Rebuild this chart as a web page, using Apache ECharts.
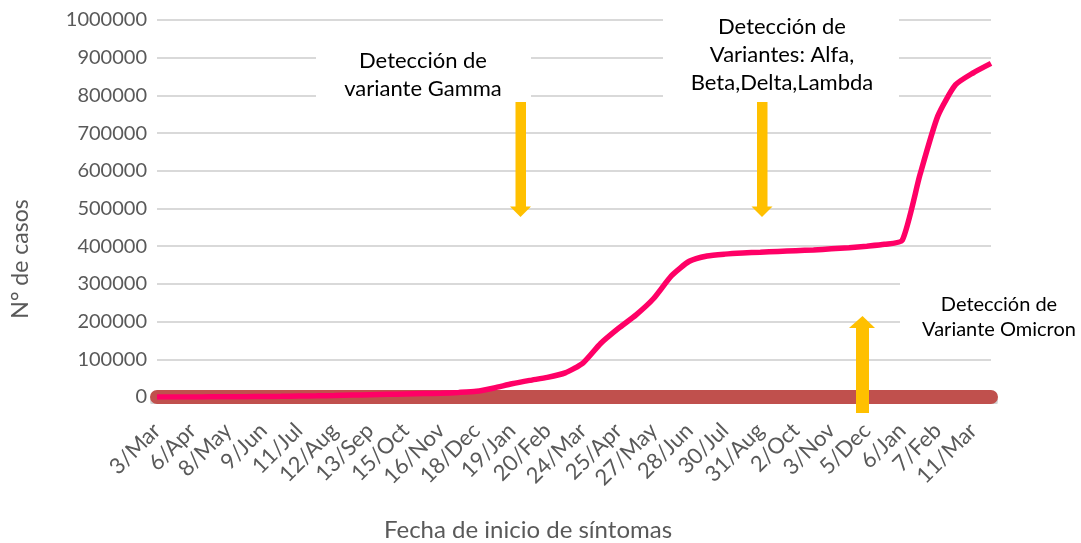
<!DOCTYPE html>
<html>
<head>
<meta charset="utf-8">
<script src="https://cdn.jsdelivr.net/npm/echarts@6/dist/echarts.min.js"></script>
<style>
  html, body { margin: 0; padding: 0; background: #fff; }
  #chart { width: 1081px; height: 543px; }
</style>
</head>
<body>
<div id="chart"></div>
<script>
// fechas cada ~16 dias, se rotula una de cada dos
var fechas = [
  '3/Mar', '19/Mar', '6/Apr', '22/Apr', '8/May', '24/May', '9/Jun', '25/Jun',
  '11/Jul', '27/Jul', '12/Aug', '28/Aug', '13/Sep', '29/Sep', '15/Oct', '31/Oct',
  '16/Nov', '2/Dec', '18/Dec', '3/Jan', '19/Jan', '4/Feb', '20/Feb', '8/Mar',
  '24/Mar', '9/Apr', '25/Apr', '11/May', '27/May', '12/Jun', '28/Jun', '14/Jul',
  '30/Jul', '15/Aug', '31/Aug', '16/Sep', '2/Oct', '18/Oct', '3/Nov', '19/Nov',
  '5/Dec', '21/Dec', '6/Jan', '22/Jan', '7/Feb', '23/Feb', '11/Mar', '27/Mar'
];

// casos acumulados
var acumulados = [
  0, 50, 200, 400, 600, 900, 1200, 1800,
  2500, 3200, 4000, 5000, 6000, 7000, 8000, 9000,
  10000, 12000, 15000, 24000, 35000, 44000, 52000, 64000,
  90000, 142000, 182000, 218000, 262000, 322000, 360000, 374000,
  379000, 382000, 384000, 386000, 388000, 390000, 393000, 396000,
  400000, 405000, 416000, 590000, 745000, 828000, 860000, 885000
];

// casos diarios (a esta escala quedan pegados al cero)
var diarios = [
  0, 0, 0, 0, 0, 0, 0, 0, 0, 0, 0, 0, 0, 0, 0, 0,
  0, 0, 0, 0, 0, 0, 0, 0, 0, 0, 0, 0, 0, 0, 0, 0,
  0, 0, 0, 0, 0, 0, 0, 0, 0, 0, 0, 0, 0, 0, 0, 0
];

var notaGamma = 'Detección de\nvariante Gamma';
var notaAlfa = 'Detección de\nVariantes: Alfa,\nBeta,Delta,Lambda';
var notaOmicron = 'Detección de\nVariante Omicron';

var gris = '#595959';
var amarillo = '#FFC000';
var fuente = 'Lato, "Open Sans", sans-serif';

function flechaAbajo(cx, top, bottom) {
  return [
    { type: 'rect', z: 100, shape: { x: cx - 5, y: top, width: 10.5, height: bottom - 10 - top }, style: { fill: amarillo } },
    { type: 'polygon', z: 100, shape: { points: [[cx - 10.5, bottom - 10.5], [cx + 10.5, bottom - 10.5], [cx, bottom]] }, style: { fill: amarillo } }
  ];
}

function nota(texto, cx, top, caja, tam) {
  return [
    { type: 'rect', z: 100, shape: caja, style: { fill: '#fff' } },
    { type: 'text', z: 101, x: cx, y: top, style: { text: texto, font: tam + 'px ' + fuente, fill: '#000', align: 'center', verticalAlign: 'top', lineHeight: tam === 22 ? 28 : 25 } }
  ];
}

var chart = echarts.init(document.getElementById('chart'));

var graficos = []
  .concat(nota(notaGamma, 423, 47, { x: 316, y: 38, width: 215, height: 63 }, 22))
  .concat(nota(notaAlfa, 782, 13, { x: 663, y: 8, width: 236, height: 93 }, 22))
  .concat(nota(notaOmicron, 999, 292, { x: 900, y: 280, width: 181, height: 66 }, 20))
  .concat(flechaAbajo(520.5, 102, 217))
  .concat(flechaAbajo(762, 102, 217))
  .concat([
    { type: 'rect', z: 100, shape: { x: 856, y: 327, width: 13, height: 86 }, style: { fill: amarillo } },
    { type: 'polygon', z: 100, shape: { points: [[849, 328], [875, 328], [862.5, 316]] }, style: { fill: amarillo } },
    { type: 'text', x: 21, y: 259, rotation: Math.PI / 2, style: { text: 'N° de casos', font: '23px ' + fuente, fill: gris, align: 'center', verticalAlign: 'middle' } },
    { type: 'text', x: 528, y: 530, style: { text: 'Fecha de inicio de síntomas', font: '24px ' + fuente, fill: gris, align: 'center', verticalAlign: 'middle' } }
  ]);

chart.setOption({
  animation: false,
  backgroundColor: '#fff',
  grid: { left: 157, right: 90, top: 20, bottom: 146 },
  xAxis: {
    type: 'category',
    data: fechas,
    boundaryGap: false,
    axisLine: { show: false },
    axisTick: { show: false },
    axisLabel: {
      interval: 1,
      rotate: 45,
      margin: 30,
      color: gris,
      fontFamily: fuente,
      fontSize: 22
    }
  },
  yAxis: {
    type: 'value',
    min: 0,
    max: 1000000,
    interval: 100000,
    axisLine: { show: false },
    axisTick: { show: false },
    axisLabel: {
      color: gris,
      fontFamily: fuente,
      fontSize: 20,
      margin: 10,
      formatter: function (v) { return String(v); }
    },
    splitLine: { lineStyle: { color: '#D9D9D9', width: 2 } }
  },
  series: [
    {
      name: 'Casos diarios',
      type: 'line',
      data: diarios,
      symbol: 'none',
      lineStyle: {
        color: '#C0504D',
        width: 14,
        cap: 'round',
        shadowColor: 'rgba(0,0,0,0.18)',
        shadowOffsetY: 4,
        shadowBlur: 1
      }
    },
    {
      name: 'Casos acumulados',
      type: 'line',
      data: acumulados,
      symbol: 'none',
      smooth: 0.2,
      lineStyle: { color: '#FF0066', width: 5.5 }
    }
  ],
  graphic: graficos
});
</script>
</body>
</html>
